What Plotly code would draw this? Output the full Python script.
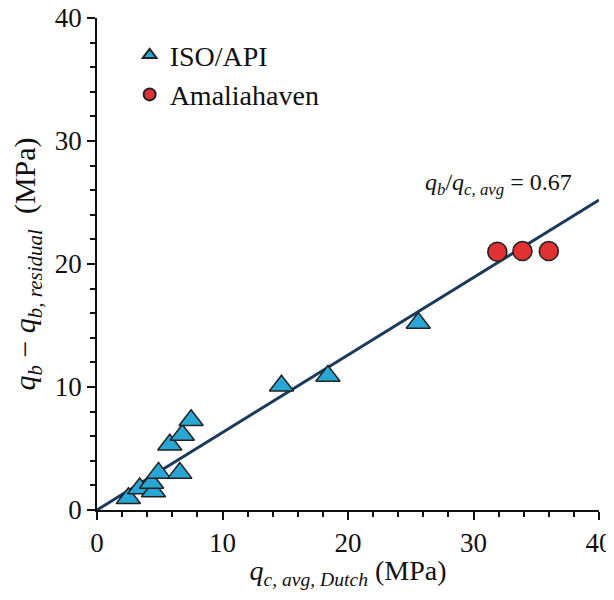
import plotly.graph_objects as go

iso_x = [2.5, 3.4, 4.5, 4.35, 4.9, 6.6, 5.8, 6.8, 7.5, 14.7, 18.4, 25.6]
iso_y = [0.95, 1.75, 1.5, 2.2, 3.0, 3.0, 5.3, 6.1, 7.3, 10.1, 10.9, 15.2]
ama_x = [31.9, 33.9, 36.0]
ama_y = [21.0, 21.05, 21.05]
fit_x = [0, 40]
fit_y = [0, 25.2]

serif = "Liberation Serif, Times New Roman, serif"
fig = go.Figure()
fig.add_trace(go.Scatter(x=fit_x, y=fit_y, mode="lines",
                         line=dict(color="#1b3a5c", width=3), showlegend=False))
fig.add_trace(go.Scatter(x=iso_x, y=iso_y, mode="markers", name="ISO/API",
                         marker=dict(symbol="triangle-up", size=21, color="#2aa6d5",
                                     line=dict(color="#222222", width=1.5))))
fig.add_trace(go.Scatter(x=ama_x, y=ama_y, mode="markers", name="Amaliahaven",
                         marker=dict(symbol="circle", size=19, color="#e03232",
                                     line=dict(color="#222222", width=1.5))))

fig.add_annotation(x=32.0, y=26.5, xref="x", yref="y", showarrow=False,
                   text="<i>q<sub>b</sub></i>/<i>q<sub>c, avg</sub></i> = 0.67",
                   font=dict(family=serif, size=24, color="#111"))

axis_common = dict(showgrid=False, zeroline=False, showline=True, linecolor="#111",
                   linewidth=1.5, ticks="outside", ticklen=8, tickwidth=1.5,
                   tickcolor="#111", mirror=False, automargin=False,
                   ticklabeloverflow="allow",
                   tickfont=dict(family=serif, size=27, color="#111"))
fig.update_xaxes(range=[0, 40], dtick=10,
                 minor=dict(dtick=2, ticks="outside", ticklen=5, tickwidth=1.5, tickcolor="#111"),
                 title=dict(text="<i>q<sub>c, avg, Dutch</sub></i> (MPa)",
                            font=dict(family=serif, size=28, color="#111"), standoff=14),
                 **axis_common)
fig.update_yaxes(range=[0, 40], dtick=10,
                 minor=dict(dtick=2, ticks="outside", ticklen=5, tickwidth=1.5, tickcolor="#111"),
                 title=dict(text="<i>q<sub>b</sub></i> − <i>q<sub>b, residual</sub></i>  (MPa)",
                            font=dict(family=serif, size=30, color="#111"), standoff=10),
                 **axis_common)
fig.update_layout(width=606, height=582, plot_bgcolor="white", paper_bgcolor="white",
                  margin=dict(l=89, r=15, t=10, b=80),
                  legend=dict(x=0.065, y=0.975, xanchor="left", yanchor="top",
                              font=dict(family=serif, size=28, color="#111"),
                              tracegroupgap=0,
                              bgcolor="rgba(0,0,0,0)", itemsizing="constant"))
fig.write_html("out.html")
